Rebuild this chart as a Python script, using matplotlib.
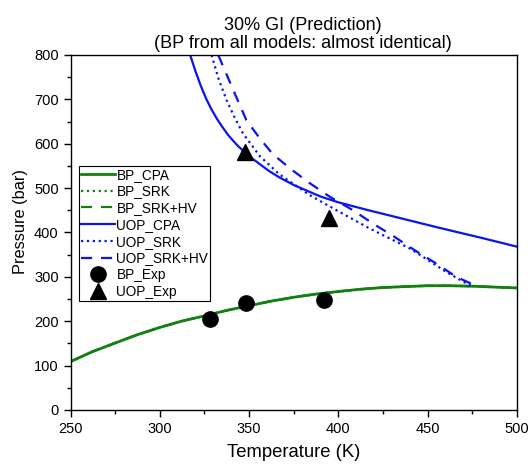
import numpy as np
import matplotlib
matplotlib.use("Agg")
import matplotlib.pyplot as plt
from matplotlib.ticker import MultipleLocator

plt.rcParams['font.family'] = ['Liberation Sans', 'DejaVu Sans']

# Bubble point curve (all models almost identical)
bp_T = [250, 262, 275, 287, 300, 312, 325, 337, 350, 362, 375, 387, 400, 412, 425, 437, 450, 462, 475, 487, 500]
bp_cpa = [109, 131, 151, 169, 186, 200, 212, 224, 235, 245, 254, 261, 267, 272, 276, 278, 280, 280, 279, 277, 275]
bp_srk = bp_cpa
bp_srk_hv = bp_cpa

# Upper onset pressure curves
uop_cpa_T = [317, 320, 323, 326, 329, 332, 335, 338, 341, 344, 347.6, 352, 356, 361, 367, 375,
             390, 400, 415, 430, 456, 480, 500]
uop_cpa_P = [800, 763, 730, 701, 677, 656, 638, 621, 607, 594, 581, 566, 554, 539, 524, 507,
             481, 468, 452, 437, 411, 388, 368]

uop_srk_T = [329, 333, 337.4, 342, 346.6, 356, 367, 384, 399, 417.5, 440, 445.5, 460.4, 474]
uop_srk_P = [800, 745, 698, 658, 623, 572, 531, 484, 450, 409, 364, 350, 311, 280]

uop_hv_T = [332.7, 342, 348.5, 356, 363.4, 373.7, 384, 395, 408.2, 419.4, 431.5, 442.7, 454.8, 466, 478]
uop_hv_P = [800, 713, 653, 612, 576, 542, 511, 481, 450, 420, 390, 360, 330, 300, 278]

# Experimental data
bp_exp_T = [328, 348, 392]
bp_exp_P = [205, 240, 247]
uop_exp_T = [347.6, 394.7]
uop_exp_P = [582, 432]

green = '#118011'
blue = '#0a14f0'

fig = plt.figure(figsize=(5.31, 4.70), dpi=100)
ax = fig.add_axes([0.1328, 0.1277, 0.8408, 0.7553])

ax.plot(bp_T, bp_cpa, color=green, lw=2, label='BP_CPA')
ax.plot(bp_T, bp_srk, color=green, lw=1.6, ls=':', label='BP_SRK')
ax.plot(bp_T, bp_srk_hv, color=green, lw=1.6, ls=(0, (5, 4)), label='BP_SRK+HV')
ax.plot(uop_cpa_T, uop_cpa_P, color=blue, lw=1.6, label='UOP_CPA')
ax.plot(uop_srk_T, uop_srk_P, color=blue, lw=1.6, ls=':', label='UOP_SRK')
ax.plot(uop_hv_T, uop_hv_P, color=blue, lw=1.6, ls=(0, (5, 4)), label='UOP_SRK+HV')
ax.plot(bp_exp_T, bp_exp_P, 'o', color='black', ms=11, ls='none', label='BP_Exp')
ax.plot(uop_exp_T, uop_exp_P, '^', color='black', ms=12, ls='none', label='UOP_Exp')

ax.set_xlim(250, 500)
ax.set_ylim(0, 800)
ax.xaxis.set_major_locator(MultipleLocator(50))
ax.xaxis.set_minor_locator(MultipleLocator(25))
ax.yaxis.set_major_locator(MultipleLocator(100))
ax.yaxis.set_minor_locator(MultipleLocator(50))
ax.tick_params(which='both', direction='out', top=False, right=False, labelsize=10.5, width=1)
ax.tick_params(which='major', length=5)
ax.tick_params(which='minor', length=3)
for s in ax.spines.values():
    s.set_linewidth(1)

ax.set_xlabel('Temperature (K)', fontsize=13.3, labelpad=6)
ax.set_ylabel('Pressure (bar)', fontsize=11.8)
ax.yaxis.set_label_coords(-0.095, 0.53)
ax.set_title('30% GI (Prediction)\n(BP from all models: almost identical)', fontsize=13,
             pad=5, linespacing=1.05, x=0.52)

leg = ax.legend(loc='upper left', bbox_to_anchor=(0.02, 0.688), borderaxespad=0,
                fontsize=9.8, frameon=True, fancybox=False, edgecolor='black',
                framealpha=1, handlelength=2.45, handletextpad=0.12, labelspacing=0.2,
                borderpad=0.15, markerscale=1)
leg.get_frame().set_linewidth(0.8)

fig.savefig('out.png', dpi=100)
